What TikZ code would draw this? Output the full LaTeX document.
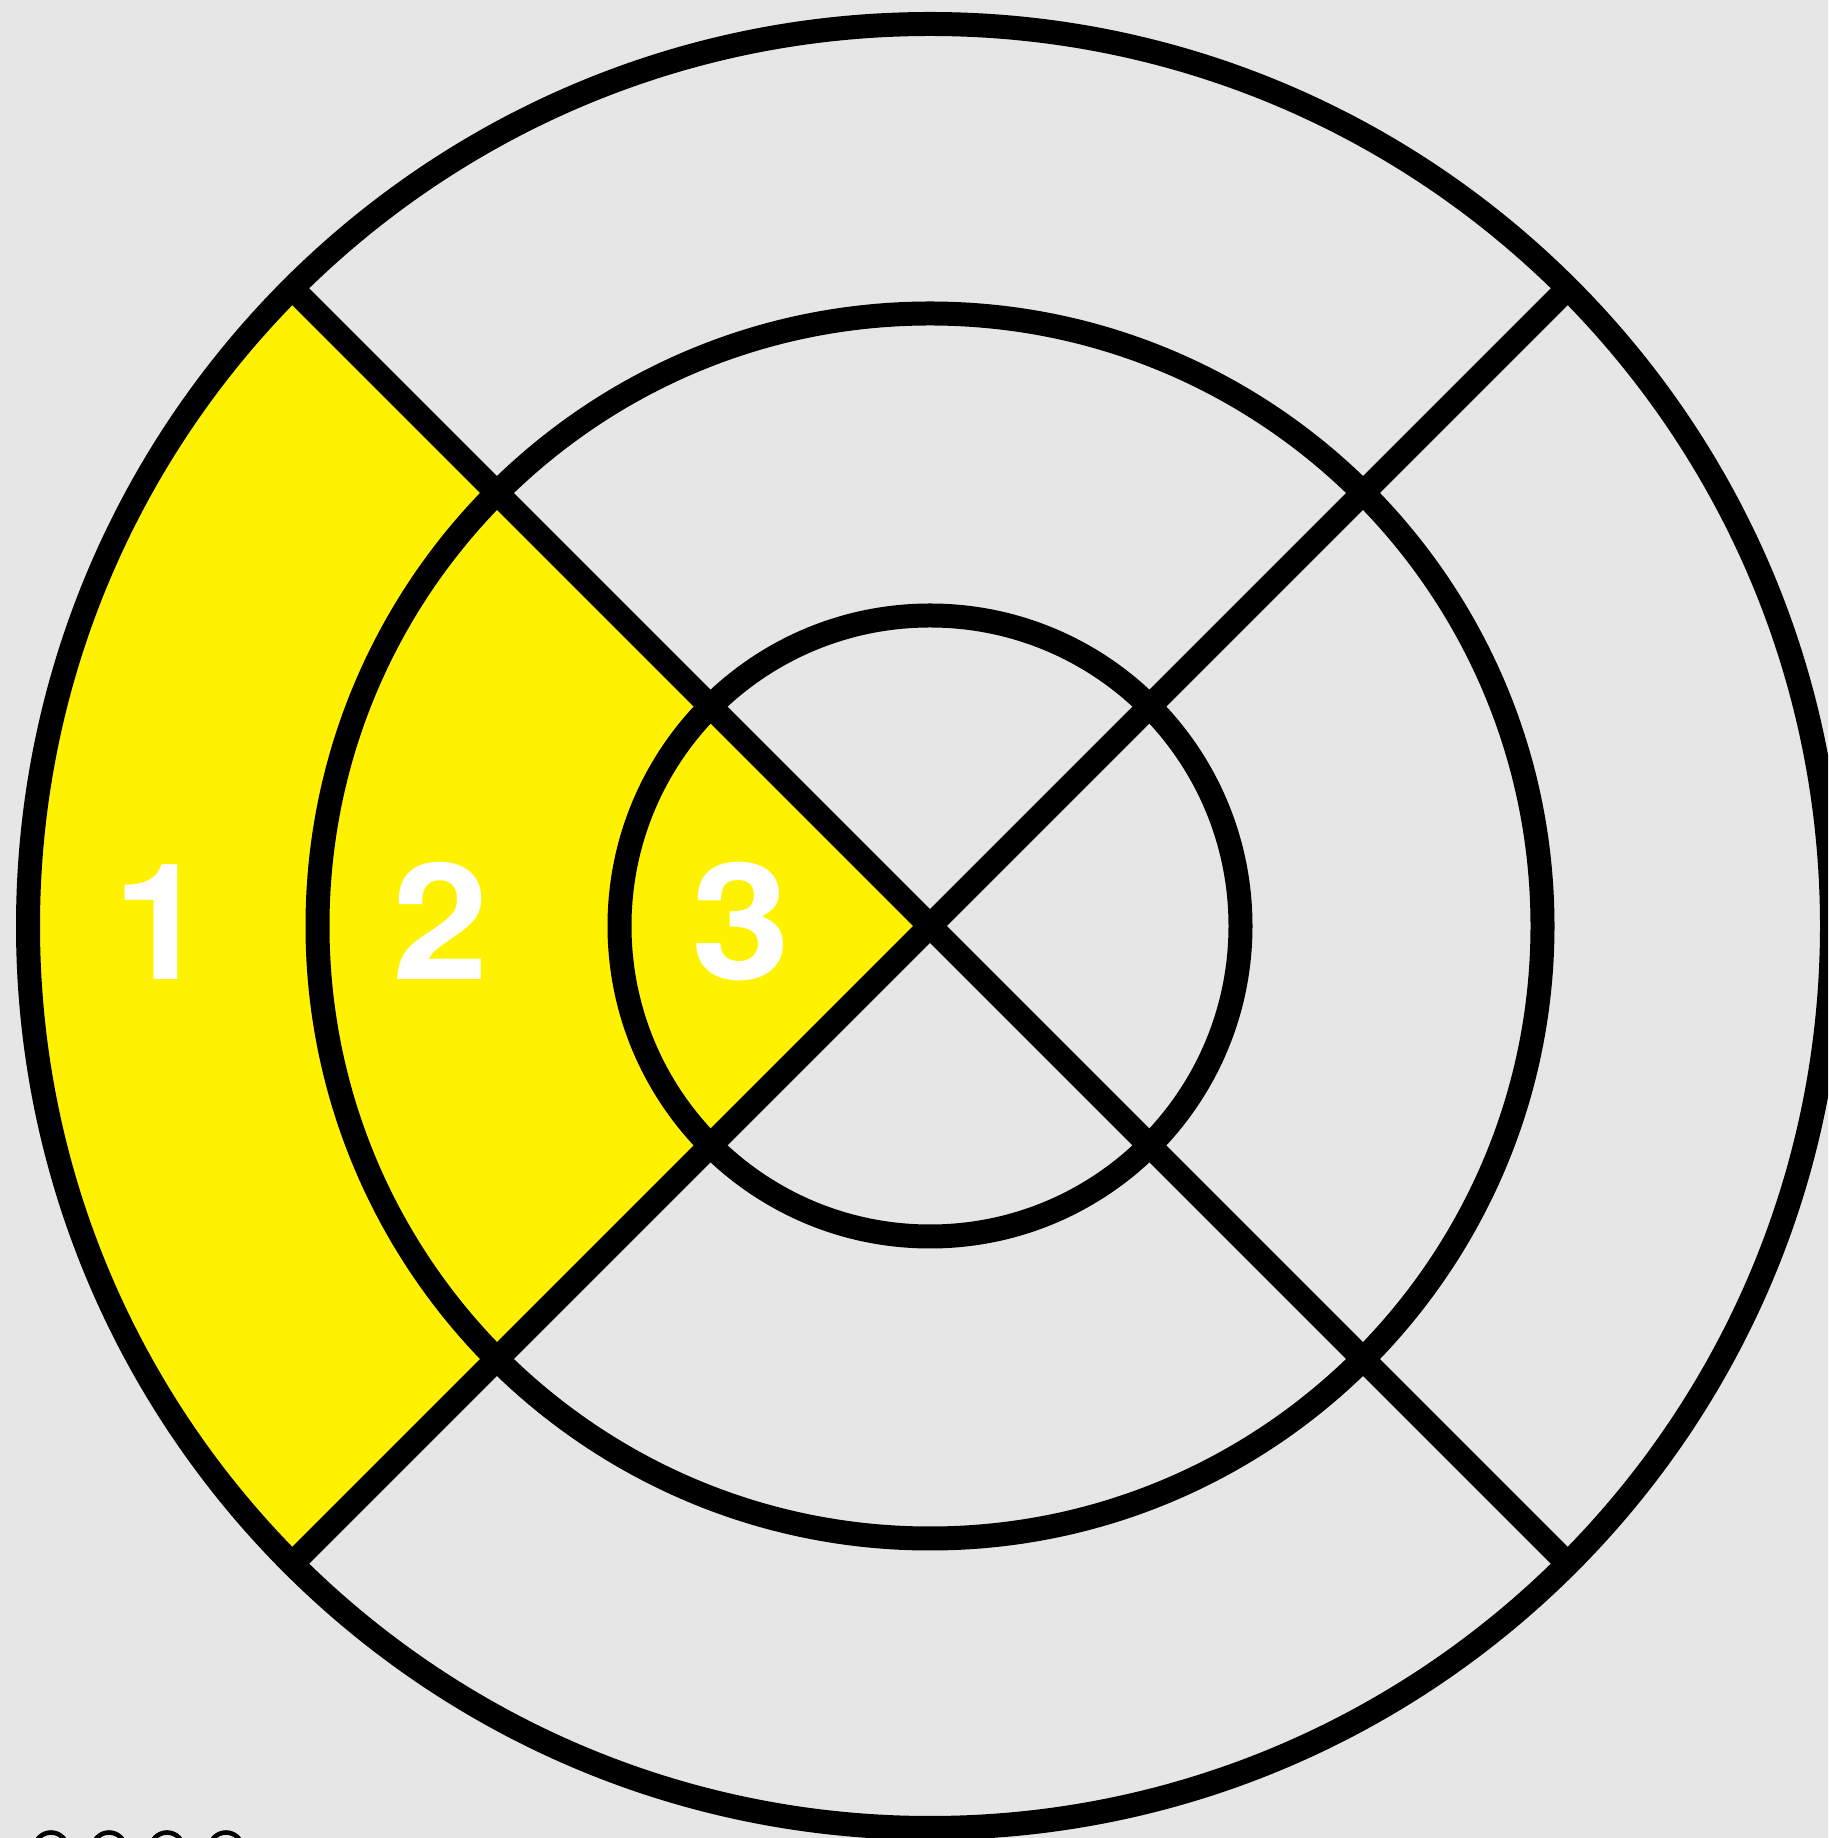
\documentclass[tikz,border=0pt]{standalone}
\usepackage{fontspec}
\setmainfont{TeX Gyre Heros}
\definecolor{bgc}{RGB}{230,230,230}
\definecolor{yel}{RGB}{255,242,0}
\begin{document}
\begin{tikzpicture}[x=0.5pt,y=0.5pt,
  ring/.style={draw=black,line width=12pt},
  spoke/.style={draw=black,line width=12pt},
  smallring/.style={draw=black,line width=2.3pt},
  digit/.style={text=white,inner sep=0pt,anchor=base,font=\fontsize{81}{81}\selectfont\bfseries}]
\fill[bgc] (0,0) rectangle (1828,1838);
\useasboundingbox (0,0) rectangle (1828,1838);
\begin{scope}
\clip (0,0) rectangle (1828,1838);
\coordinate (c) at (930,912);
\coordinate (tl) at (292.2,1549.8);
\coordinate (br) at (1567.8,274.2);
\coordinate (bl) at (292.2,274.2);
\coordinate (tr) at (1567.8,1549.8);
% yellow sector
\fill[yel] (c) -- (tl) arc[start angle=135,end angle=225,radius=902] -- cycle;
% rings
\draw[ring] (c) circle[radius=902];
\draw[ring] (c) circle[radius=612.5];
\draw[ring] (c) circle[radius=310.5];
% spokes
\draw[spoke] (tl) -- (br);
\draw[spoke] (bl) -- (tr);
% labels
\node[digit] (n1) at (161,858) {\scalebox{1.05}[1]{1}};
\node[digit] (n2) at (441,858) {\scalebox{1.07}[1]{2}};
\node[digit] (n3) at (741,858) {\scalebox{1.1}[1]{3}};
% small partial rings at the bottom edge
\draw[smallring] (51,-11) circle[radius=16.5];
\draw[smallring] (109,-11) circle[radius=16.5];
\draw[smallring] (167,-11) circle[radius=16.5];
\draw[smallring] (226,-11) circle[radius=16.5];
\end{scope}
\end{tikzpicture}
\end{document}
